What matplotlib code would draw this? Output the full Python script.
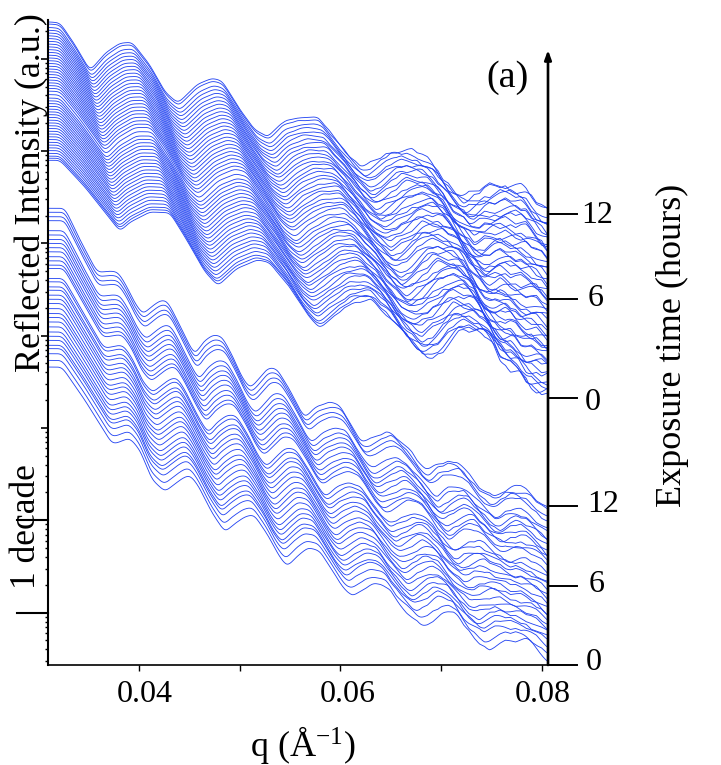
import numpy as np
import matplotlib
matplotlib.use("Agg")
import matplotlib.pyplot as plt
from matplotlib.transforms import blended_transform_factory, offset_copy, ScaledTranslation
from matplotlib.ticker import FixedLocator, NullFormatter

plt.rcParams['font.family'] = ['Liberation Serif', 'DejaVu Serif']
plt.rcParams['mathtext.fontset'] = 'custom'
plt.rcParams['mathtext.rm'] = 'Liberation Serif'
plt.rcParams['mathtext.it'] = 'Liberation Serif'

# NOTE: only the outer traces of each stack are read from the picture (fringe
# features, log10 intensity). Traces in between are an approximation: a morph
# between those outer traces at the spacings read at the left edge, plus one
# hand-typed roughness profile. They are not individually measured curves.

# upper stack, last exposure (top trace)
top_hi_q = [0.03097,0.03216,0.03365,0.03514,0.03663,0.03811,0.03931,0.04109,0.04258,0.04387,
            0.04576,0.04725,0.04824,0.05003,0.05151,0.05280,0.05429,0.05578,0.05777,0.05945,
            0.06094,0.06223,0.06343,0.06521,0.06720,0.06888,0.07018,0.07216,0.07415,0.07583,
            0.07812,0.08070]
top_hi_d = [6.40,6.39,6.15,5.87,6.06,6.17,6.18,5.93,5.64,5.52,
            5.72,5.79,5.76,5.45,5.23,5.15,5.32,5.37,5.36,5.14,
            4.94,4.82,4.89,5.01,5.01,4.88,4.69,4.49,4.61,4.65,
            4.61,4.33]
# upper stack, first exposure (bottom trace)
top_lo_q = [0.03097,0.03216,0.03464,0.03811,0.03911,0.04109,0.04308,0.04457,0.04655,0.04784,
            0.04973,0.05171,0.05300,0.05499,0.05677,0.05797,0.05926,0.06144,0.06313,0.06491,
            0.06710,0.06859,0.07008,0.07216,0.07415,0.07514,0.07583,0.07683,0.07782,0.07881,
            0.07980,0.08070]
top_lo_d = [4.90,4.90,4.61,4.13,4.23,4.34,4.33,4.07,3.69,3.54,
            3.73,3.82,3.79,3.52,3.22,3.09,3.19,3.37,3.39,3.21,
            2.90,2.76,2.85,3.06,3.03,2.93,2.76,2.65,2.61,2.43,
            2.39,2.38]
# lower stack, top trace
low_hi_q = [0.03097,0.03265,0.03414,0.03583,0.03643,0.03712,0.03792,0.03881,0.03960,0.04040,
            0.04109,0.04208,0.04278,0.04357,0.04476,0.04556,0.04635,0.04735,0.04824,0.04933,
            0.05022,0.05102,0.05181,0.05280,0.05370,0.05499,0.05598,0.05648,0.05747,0.05896,
            0.05995,0.06094,0.06174,0.06223,0.06343,0.06491,0.06571,0.06690,0.06789,0.06859,
            0.06938,0.07057,0.07156,0.07286,0.07405,0.07514,0.07613,0.07712,0.07851,0.08070]
low_hi_d = [4.38,4.38,4.04,3.69,3.69,3.70,3.69,3.53,3.35,3.23,
            3.30,3.38,3.38,3.22,2.95,2.79,2.93,3.01,2.99,2.77,
            2.55,2.43,2.52,2.65,2.64,2.41,2.20,2.11,2.22,2.28,
            2.25,2.06,1.90,1.84,1.90,1.97,1.89,1.76,1.60,1.51,
            1.60,1.65,1.65,1.47,1.33,1.25,1.33,1.38,1.33,1.11]
# lower stack, bottom trace
low_lo_q = [0.03097,0.03236,0.03464,0.03732,0.03792,0.03851,0.03911,0.04010,0.04129,0.04258,
            0.04328,0.04437,0.04506,0.04586,0.04725,0.04854,0.04933,0.05052,0.05141,0.05280,
            0.05380,0.05469,0.05568,0.05677,0.05797,0.05916,0.06025,0.06114,0.06214,0.06323,
            0.06472,0.06591,0.06720,0.06809,0.06908,0.07018,0.07156,0.07236,0.07315,0.07464,
            0.07514,0.07583,0.07653,0.07732,0.07802,0.07851,0.07901,0.07961,0.08010,0.08070]
low_lo_d = [2.66,2.66,2.30,1.83,1.84,1.87,1.89,1.76,1.44,1.31,
            1.37,1.46,1.49,1.38,1.08,0.87,0.95,1.04,1.06,0.84,
            0.63,0.50,0.61,0.70,0.67,0.46,0.27,0.17,0.25,0.32,
            0.26,0.08,-0.06,-0.15,-0.08,0.00,-0.03,-0.16,-0.26,-0.38,
            -0.37,-0.34,-0.32,-0.31,-0.30,-0.30,-0.35,-0.42,-0.47,-0.51]

# trace positions between bottom (0) and top (1), read at the left edge
top_fracs = [1.0,.985,.96,.94,.92,.9,.88,.86,.84,.82,.8,.78,.76,.74,.72,.7,.68,.66,.64,.62,.6,.58,
             .56,.54,.52,.5,.475,.45,.43,.41,.39,.37,.35,.33,.31,.29,.27,.25,.23,.21,.19,.17,.15,
             .13,.11,.09,.07,.05,.03,.015,0.0]
low_fracs = [1.0,.975,.947,.922,.859,.832,.804,.779,.752,.726,.695,.669,.642,.621,.558,.537,.505,
             .484,.453,.427,.4,.368,.337,.312,.284,.253,.221,.194,.168,.137,.116,.084,.042,0.0]

# hand-typed roughness profile (arbitrary units)
roughness = [0.2,0.6,0.1,-0.5,-0.9,-0.3,0.4,0.9,0.5,1.0,0.3,-0.2,-0.7,-0.2,0.5,-0.1,-0.8,-1.0,-0.4,0.2,
             0.7,1.0,0.6,0.1,0.5,-0.3,-0.9,-0.5,-1.0,-0.4,0.3,0.8,0.3,-0.3,0.2,0.8,1.0,0.4,-0.2,-0.8,
             -0.4,-0.9,-0.2,0.5,0.1,0.7,0.2,-0.5,-0.1,-0.7,-1.0,-0.6,0.0,0.6,0.9,0.3,0.8,0.2,-0.4,-0.9,
             -0.5,0.1,-0.3,0.5,0.9,0.4,-0.2,0.3,-0.6,-1.0,-0.5,0.2,0.6,0.1,0.7,1.0,0.5,-0.1,-0.7,-0.3,
             -0.8,-0.2,0.4,0.8,0.2,-0.4,0.1,0.6,-0.1,-0.6,-0.9,-0.3,0.3,0.7,0.4,-0.3,-0.7,-0.2,0.5,0.0]
rough_amp_q = [0.030, 0.050, 0.058, 0.064, 0.070, 0.081]
rough_amp_top = [0.0, 0.002, 0.012, 0.028, 0.045, 0.060]
rough_amp_low = [0.0, 0.001, 0.006, 0.016, 0.028, 0.036]

x_major = [0.04, 0.06, 0.08]
x_minor = [0.05, 0.07]
x_labels = ['0.04', '0.06', '0.08']
y_major_decades = [-0.0, 1.0, 2.0, 3.0, 4.0, 5.0, 6.0]
y_long_decades = [0.0, 1.0]
time_labels = ['0', '6', '12', '0', '6', '12']
time_decades = [2.325, 3.398, 4.319, -0.568, 0.288, 1.155]

W, H = 721, 765
BLUE = '#2344f2'
fig = plt.figure(figsize=(W/100, H/100), dpi=100)
AX_T, AX_B = 20, 665
ax = fig.add_axes([48/W, 1-AX_B/H, 500/W, (AX_B-AX_T)/H])
ax.set_yscale('log')
ax.set_xlim(0.03097, 0.08060)
ax.set_ylim(10**-0.568, 10**6.42)


def draw_stack(hq, hd, lq, ld, fracs, amp):
    grid = np.linspace(0.03097, 0.0808, 700)
    hq, hd, lq, ld = map(np.asarray, (hq, hd, lq, ld))
    kernel = np.ones(9)/9
    rq = np.linspace(0.030, 0.0810, len(roughness))
    scale = np.interp(grid, rough_amp_q, amp)
    for k, f in enumerate(fracs):
        q = (1-f)*lq + f*hq
        d = (1-f)*ld + f*hd
        y = np.interp(grid, q, d)
        for _ in range(2):
            y = np.convolve(np.pad(y, 4, mode='edge'), kernel, mode='valid')
        r = np.interp(grid, rq, np.roll(roughness, k*23))
        y = y + r*scale
        ax.plot(grid, 10**y, color=BLUE, lw=0.62, solid_joinstyle='round')


draw_stack(top_hi_q, top_hi_d, top_lo_q, top_lo_d, top_fracs, rough_amp_top)
draw_stack(low_hi_q, low_hi_d, low_lo_q, low_lo_d, low_fracs, rough_amp_low)

# axes
for s in ('top', 'right'):
    ax.spines[s].set_visible(False)
ax.spines['left'].set_linewidth(1.5)
ax.spines['bottom'].set_linewidth(1.2)
ax.set_xticks(x_major)
ax.set_xticks(x_minor, minor=True)
ax.set_xticklabels(x_labels, fontsize=23)
ax.tick_params(axis='x', which='both', direction='out', length=4.5, width=1.0, pad=6.5)
for lbl, dx in zip(ax.get_xticklabels(), [6, 7, 1]):
    lbl.set_transform(lbl.get_transform() + ScaledTranslation(dx/100, 0, fig.dpi_scale_trans))
ax.yaxis.set_major_locator(FixedLocator([10**d for d in y_major_decades]))
minors = [m*10**d for d in range(-1, 7) for m in range(2, 10)]
ax.yaxis.set_minor_locator(FixedLocator(minors))
ax.yaxis.set_major_formatter(NullFormatter())
ax.yaxis.set_minor_formatter(NullFormatter())
ax.tick_params(axis='y', which='major', direction='out', length=5, width=1.2)
ax.tick_params(axis='y', which='minor', direction='out', length=2.5, width=1.0)

# long "1 decade" ticks
tr_y = blended_transform_factory(fig.transFigure, ax.transData)
for d in y_long_decades:
    ax.plot([17/W, 48/W], [10**d, 10**d], transform=tr_y, color='k', lw=1.5, clip_on=False)

# time axis with arrow
ax.annotate('', xy=(1.0, (AX_B-50)/(AX_B-AX_T)), xytext=(1.0, 0.0), xycoords='axes fraction',
            arrowprops=dict(arrowstyle='-|>,head_length=0.55,head_width=0.2', color='k', lw=1.9,
                            shrinkA=0, shrinkB=0))
label_centers = [593, 596, 597, 594, 597, 603]
label_dy = [-5, 0, -2, 3, 1, 1]
for lab, d, cx, dy in zip(time_labels, time_decades, label_centers, label_dy):
    ax.plot([548/W, 577/W], [10**d, 10**d], transform=tr_y, color='k', lw=1.4, clip_on=False)
    t = offset_copy(tr_y, fig=fig, y=dy, units='dots')
    ax.text(cx/W, 10**d, lab, transform=t, ha='center', va='center', fontsize=23, clip_on=False)

# texts
def ftext(x, y, s, **kw):
    fig.text(x/W, 1-y/H, s, ha='center', va='center', **kw)

ftext(31, 193, 'Reflected Intensity (a.u.)', rotation=90, fontsize=26)
ftext(27, 527, '1 decade', rotation=90, fontsize=25.5)
ftext(672, 345, 'Exposure time (hours)', rotation=90, fontsize=26)
ftext(507, 78, '(a)', fontsize=27.5)
ftext(303, 745, 'q (Å$^{-1}$)', fontsize=26)

fig.savefig('out.png', dpi=100)
